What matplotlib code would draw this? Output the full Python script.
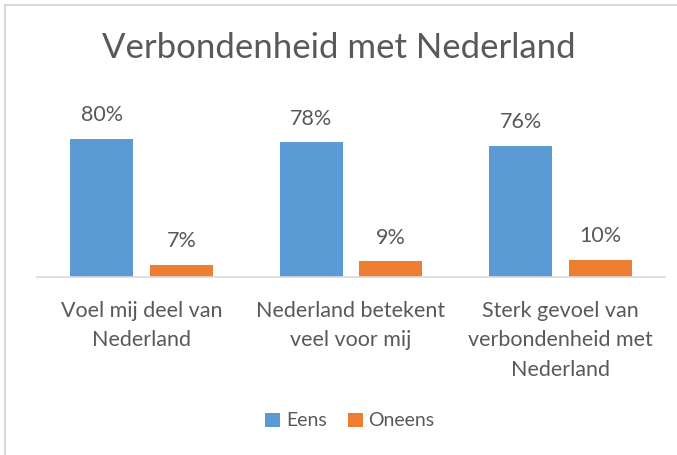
import numpy as np
from matplotlib import pyplot as plt
from matplotlib.lines import Line2D

plt.rcParams['font.family'] = ['Lato', 'DejaVu Sans']

# data
categories = ['Voel mij deel van\nNederland', 'Nederland betekent\nveel voor mij',
              'Sterk gevoel van\nverbondenheid met\nNederland']
eens = [80, 78, 76]
oneens = [7, 9, 10]
series_names = ['Eens', 'Oneens']

blue = '#5B9BD5'
orange = '#ED7D31'
txt = '#595959'

W, H = 677, 455
fig = plt.figure(figsize=(W/100, H/100), dpi=100)
ax = fig.add_axes([37/W, 1-277/H, 628/W, 177/H])

x = np.arange(len(categories))
bw = 0.30
off = 0.19
b1 = ax.bar(x - off, eens, bw, color=blue, label=series_names[0])
b2 = ax.bar(x + off, oneens, bw, color=orange, label=series_names[1])

# value labels
for bars, vals in [(b1, eens), (b2, oneens)]:
    for r, v in zip(bars, vals):
        ax.annotate(f'{v}%', (r.get_x() + r.get_width()/2, v), xytext=(0, 10),
                    textcoords='offset points', ha='center', va='bottom',
                    fontsize=15.5, color=txt)

ax.set_xlim(-0.5, len(categories) - 0.5)
ax.set_ylim(0, 102.6)
ax.set_yticks([])
ax.set_xticks(x)
ax.set_xticklabels(categories, fontsize=15.5, color=txt, linespacing=1.6)
ax.tick_params(axis='x', length=0, pad=17)
for s in ['top', 'right', 'left']:
    ax.spines[s].set_visible(False)
ax.spines['bottom'].set_color('#D9D9D9')
ax.spines['bottom'].set_linewidth(1.2)

fig.text(0.5, 1-48/H, 'Verbondenheid met Nederland', ha='center', va='center',
         fontsize=25, color=txt)

fig.legend(loc='center', bbox_to_anchor=(350/W, 1-421/H), ncol=2, frameon=False,
           fontsize=14, handlelength=0.75, handleheight=0.75, handletextpad=0.3,
           columnspacing=1.1, labelcolor=txt)

# chart border
fig.add_artist(Line2D([5/W, 1], [1-5/H, 1-5/H], color='#D9D9D9', lw=1.5))
fig.add_artist(Line2D([5/W, 5/W], [0, 1-5/H], color='#D9D9D9', lw=1.5))

fig.savefig('out.png', dpi=100)
